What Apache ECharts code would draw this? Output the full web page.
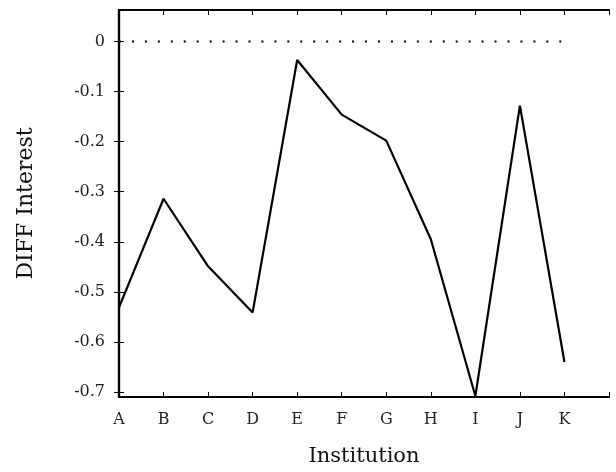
<!DOCTYPE html>
<html>
<head>
<meta charset="utf-8">
<script src="https://cdn.jsdelivr.net/npm/echarts@6/dist/echarts.min.js"></script>
<style>
  html, body { margin: 0; padding: 0; background: #fff; }
  #chart { width: 616px; height: 472px; }
</style>
</head>
<body>
<div id="chart"></div>
<script>
// 数据
const institutions = ['A', 'B', 'C', 'D', 'E', 'F', 'G', 'H', 'I', 'J', 'K']
const diffInterest = [-0.531, -0.314, -0.449, -0.541, -0.037, -0.146, -0.198, -0.395, -0.708, -0.128, -0.640]
const yTicks = [0, -0.1, -0.2, -0.3, -0.4, -0.5, -0.6, -0.7]
const zeroLine = institutions.map(() => 0)

const font = '"DejaVu Serif", "Liberation Serif", serif'
const ink = '#000'

const chart = echarts.init(document.getElementById('chart'))

const xBase = {
  type: 'value',
  min: 0,
  max: 11,
  interval: 1,
  splitLine: { show: false },
  axisLine: { show: true, onZero: false, lineStyle: { color: ink, width: 2.2 } },
  axisTick: { show: true, inside: true, length: 5, lineStyle: { color: ink, width: 1 } }
}
const yBase = {
  type: 'value',
  min: -0.71,
  max: 0.063,
  splitLine: { show: false },
  axisLine: { show: true, lineStyle: { color: ink, width: 2.2 } },
  axisTick: { show: true, inside: true, length: 5, customValues: yTicks, lineStyle: { color: ink, width: 1 } }
}

chart.setOption({
  animation: false,
  grid: { left: 119, right: 7, top: 10, bottom: 74, containLabel: false },
  xAxis: [
    Object.assign({}, xBase, {
      position: 'bottom',
      name: 'Institution',
      nameLocation: 'middle',
      nameGap: 49,
      nameTextStyle: { fontFamily: font, fontSize: 21, color: '#111' },
      axisLabel: {
        margin: 15,
        fontFamily: font,
        fontSize: 16,
        color: '#222',
        formatter: v => institutions[v] || ''
      }
    }),
    Object.assign({}, xBase, { position: 'top', axisLabel: { show: false } })
  ],
  yAxis: [
    Object.assign({}, yBase, {
      position: 'left',
      name: 'DIFF Interest',
      nameLocation: 'middle',
      nameGap: 82,
      nameTextStyle: { fontFamily: font, fontSize: 22, color: '#111' },
      axisLabel: {
        margin: 14,
        fontFamily: font,
        fontSize: 16,
        color: '#222',
        customValues: yTicks,
        formatter: v => String(Math.round(v * 10) / 10)
      }
    }),
    Object.assign({}, yBase, { position: 'right', axisLabel: { show: false } })
  ],
  series: [
    {
      type: 'line',
      silent: true,
      symbol: 'none',
      data: zeroLine.map((v, i) => [i, v]),
      lineStyle: { color: ink, width: 2, type: [2, 10.95], cap: 'butt' },
      z: 1
    },
    {
      type: 'line',
      symbol: 'none',
      data: diffInterest.map((v, i) => [i, v]),
      lineStyle: { color: ink, width: 2.2 },
      z: 2
    }
  ]
})
</script>
</body>
</html>
